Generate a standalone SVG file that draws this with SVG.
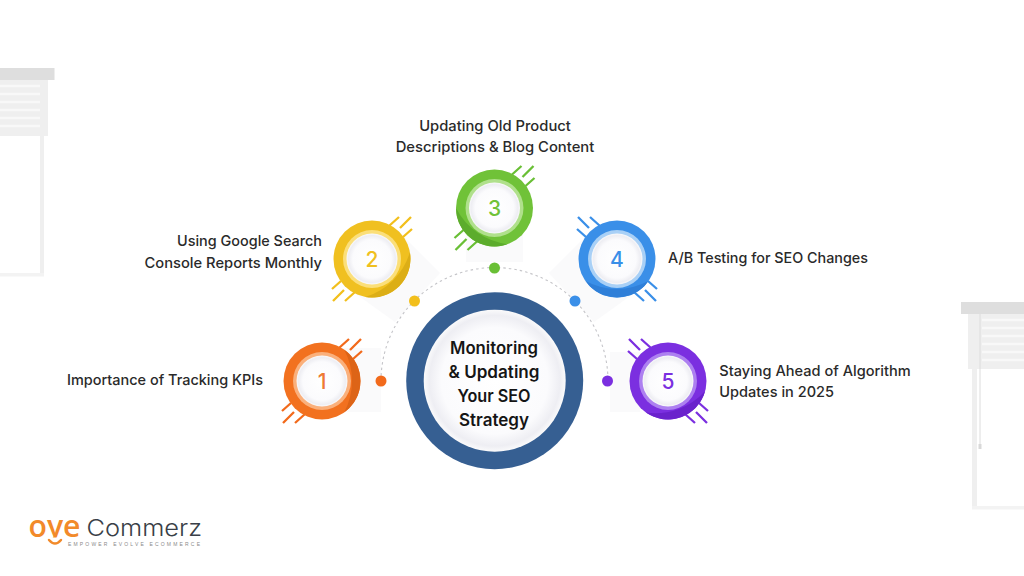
<svg xmlns="http://www.w3.org/2000/svg" width="1024" height="576" viewBox="0 0 1024 576">
<defs>
<radialGradient id="disc" cx="0.5" cy="0.5" r="0.5"><stop offset="0" stop-color="#ffffff"/><stop offset="0.75" stop-color="#fbfbfd"/><stop offset="0.92" stop-color="#eeeef3"/><stop offset="1" stop-color="#fafafb"/></radialGradient>
<g id="ticks"><path d="M17-33 27-42M28-31 39-42M31-22 40-30M-17 33-27 42M-28 31-39 42M-31 22-40 30" fill="none" stroke-width="2.300"/></g>
<path id="cres" d="M22.100-31.500A38.500 38.500 0 0 1 22.100 31.500A66.700 66.700 0 0 0 22.100-31.500Z"/>
<clipPath id="oyeclip"><rect x="20" y="510" width="70" height="27.500"/></clipPath>
</defs>
<style>
.t{font-family:"Inter","Liberation Sans",sans-serif;font-size:14.500px;font-weight:500;fill:#2a2a2a}
.c{font-family:"Inter","Liberation Sans",sans-serif;font-size:16.800px;font-weight:600;fill:#151515;text-anchor:middle}
.n{font-family:"Inter","Liberation Sans",sans-serif;font-size:21px;font-weight:500;text-anchor:middle}
.sh{fill:#fafafb}
.m{text-anchor:middle}.e{text-anchor:end}
</style>
<rect width="1024" height="576" fill="#fff"/>
<g id="blind-left">
<rect x="0" y="80" width="48" height="56" fill="#efefef"/>
<path d="M0 86H40M0 94H40M0 102H40M0 110H40M0 118H40M0 126H40" stroke="#f8f8f8" stroke-width="2.500"/>
<rect x="0" y="68" width="54.500" height="12" fill="#dedede"/>
<rect x="40" y="136" width="4" height="140" fill="#efefef"/>
<rect x="0" y="273" width="44" height="3.500" fill="#f3f3f3"/>
</g>
<g id="blind-right">
<rect x="968" y="314" width="56" height="55" fill="#efefef"/>
<path d="M982 320H1024M982 328H1024M982 336H1024M982 344H1024M982 352H1024M982 360H1024" stroke="#f8f8f8" stroke-width="2.500"/>
<rect x="961" y="302" width="63" height="12" fill="#dedede"/>
<rect x="972" y="369" width="5" height="140" fill="#efefef"/>
<rect x="972" y="506" width="52" height="3.500" fill="#f3f3f3"/>
<path d="M980 314V446" stroke="#dcdcdc" stroke-width="1"/>
<path d="M980 444V449" stroke="#d8d8d8" stroke-width="3"/>
</g>
<g id="connectors">
<rect class="sh" x="340" y="348" width="41" height="64"/>
<polygon class="sh" points="399,232 440,273 395,322 345,286"/>
<rect class="sh" x="466" y="230" width="57" height="32"/>
<polygon class="sh" points="590,232 549,273 594,322 644,286"/>
<rect class="sh" x="610" y="352" width="30" height="60"/>
<path d="M381 381A113.500 113.500 0 0 1 608 381" fill="none" stroke="#c4c4c8" stroke-width="1.100" stroke-dasharray="2.500 3"/>
<circle cx="381" cy="381" r="5.500" fill="#f26a1b"/>
<circle cx="414.500" cy="301" r="5.500" fill="#f2bf1c"/>
<circle cx="494.500" cy="268" r="5.500" fill="#69bf35"/>
<circle cx="575" cy="301" r="5.500" fill="#3a8fe8"/>
<circle cx="607.500" cy="381" r="5.500" fill="#7b2fe0"/>
</g>
<g id="center">
<circle cx="494.700" cy="380.700" r="88.500" fill="#365f92"/>
<circle cx="494.700" cy="380.700" r="71" fill="url(#disc)"/>
<text class="c" x="494" y="353.500" textLength="88" lengthAdjust="spacingAndGlyphs">Monitoring</text>
<text class="c" x="494" y="377.500" textLength="91" lengthAdjust="spacingAndGlyphs">&amp; Updating</text>
<text class="c" x="494" y="401.500" textLength="73" lengthAdjust="spacingAndGlyphs">Your SEO</text>
<text class="c" x="494" y="425.500" textLength="70" lengthAdjust="spacingAndGlyphs">Strategy</text>
</g>
<g id="node1">
<use href="#ticks" x="322" y="381" stroke="#f26a1b"/>
<circle cx="322" cy="381" r="38.500" fill="#f2711f"/>
<use href="#cres" transform="translate(322 381)" fill="#dd6417"/>
<circle cx="322" cy="381" r="29" fill="#fab07c"/>
<circle cx="322" cy="381" r="25.500" fill="url(#disc)"/>
<text class="n" x="322" y="388.500" fill="#ee7a33">1</text>
<text class="t e" x="263" y="385" textLength="196" lengthAdjust="spacingAndGlyphs">Importance of Tracking KPIs</text>
</g>
<g id="node2">
<use href="#ticks" x="372" y="259" stroke="#f2bf1c"/>
<circle cx="372" cy="259" r="38.500" fill="#f0c020"/>
<use href="#cres" transform="translate(372 259) rotate(45)" fill="#dcae16"/>
<circle cx="372" cy="259" r="29" fill="#fbdf7a"/>
<circle cx="372" cy="259" r="25.500" fill="url(#disc)"/>
<text class="n" x="372" y="266.500" fill="#f0c020">2</text>
<text class="t e" x="322" y="246" textLength="145" lengthAdjust="spacingAndGlyphs">Using Google Search</text>
<text class="t e" x="322" y="268" textLength="177.500" lengthAdjust="spacingAndGlyphs">Console Reports Monthly</text>
</g>
<g id="node3">
<use href="#ticks" x="494.500" y="208" stroke="#69bf35"/>
<circle cx="494.500" cy="208" r="38.500" fill="#70c238"/>
<use href="#cres" transform="translate(494.500 208) rotate(125)" fill="#5cac2c"/>
<circle cx="494.500" cy="208" r="29" fill="#b0e08c"/>
<circle cx="494.500" cy="208" r="25.500" fill="url(#disc)"/>
<text class="n" x="494.500" y="215.500" fill="#70c238">3</text>
<text class="t m" x="495" y="131" textLength="151.700" lengthAdjust="spacingAndGlyphs">Updating Old Product</text>
<text class="t m" x="495" y="152" textLength="198.600" lengthAdjust="spacingAndGlyphs">Descriptions &amp; Blog Content</text>
</g>
<g id="node4">
<use href="#ticks" transform="translate(617 259) scale(-1 1)" stroke="#3a8fe8"/>
<circle cx="617" cy="259" r="38.500" fill="#3a8fe8"/>
<use href="#cres" transform="translate(617 259) rotate(90)" fill="#2f7fd8"/>
<circle cx="617" cy="259" r="29" fill="#a9d0f6"/>
<circle cx="617" cy="259" r="25.500" fill="url(#disc)"/>
<text class="n" x="617" y="266.500" fill="#3a8fe8">4</text>
<text class="t" x="668" y="263" textLength="200" lengthAdjust="spacingAndGlyphs">A/B Testing for SEO Changes</text>
</g>
<g id="node5">
<use href="#ticks" transform="translate(668 381) scale(-1 1)" stroke="#7b2fe0"/>
<circle cx="668" cy="381" r="38.500" fill="#7b2fe0"/>
<use href="#cres" transform="translate(668 381) rotate(70)" fill="#6a22cc"/>
<circle cx="668" cy="381" r="29" fill="#ad80f0"/>
<circle cx="668" cy="381" r="25.500" fill="url(#disc)"/>
<text class="n" x="668" y="388.500" fill="#7b2fe0">5</text>
<text class="t" x="719.300" y="376" textLength="191.400" lengthAdjust="spacingAndGlyphs">Staying Ahead of Algorithm</text>
<text class="t" x="719.300" y="397" textLength="114.700" lengthAdjust="spacingAndGlyphs">Updates in 2025</text>
</g>
<g id="logo">
<text x="28.500" y="536.500" clip-path="url(#oyeclip)" font-family="'Open Sans','Liberation Sans',sans-serif" font-size="30" font-weight="600" fill="#f28a2a" textLength="52" lengthAdjust="spacingAndGlyphs">oye</text>
<path d="M49 540Q55 547 61 540" fill="none" stroke="#f28a2a" stroke-width="2.500" stroke-linecap="round"/>
<text x="86.500" y="536" font-family="'Inter','Liberation Sans',sans-serif" font-size="23" font-weight="300" fill="#3a3f48" textLength="115.500" lengthAdjust="spacingAndGlyphs">Commerz</text>
<text x="68" y="545.500" font-family="'Liberation Sans',sans-serif" font-size="5" fill="#8a8a8a" textLength="132">EMPOWER EVOLVE ECOMMERCE</text>
</g>
</svg>
